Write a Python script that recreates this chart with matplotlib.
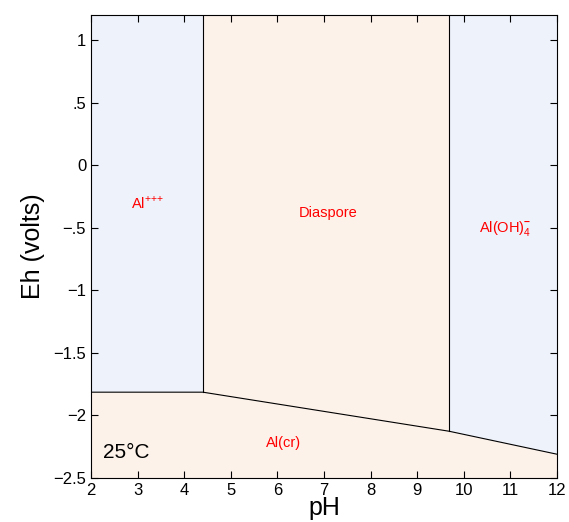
import matplotlib
matplotlib.use("Agg")
import matplotlib.pyplot as plt
from matplotlib.ticker import FuncFormatter

plt.rcParams['font.family'] = ['Liberation Sans', 'DejaVu Sans']
plt.rcParams['mathtext.fontset'] = 'custom'
plt.rcParams['mathtext.rm'] = 'Liberation Sans'
plt.rcParams['mathtext.bf'] = 'Liberation Sans:bold'

# field boundaries (pH, Eh)
x_left = 4.40
x_right = 9.68
bottom_x = [2, 4.40, 9.68, 12]
bottom_y = [-1.814, -1.814, -2.126, -2.31]

# region labels
labels = ["$\\mathrm{Al}^{{+}{+}{+}}$", "Diaspore", "$\\mathrm{Al(OH)}_4^{\\mathbf{-}}$", "Al(cr)"]
label_x = [3.2, 7.09, 10.88, 6.14]
label_y = [-0.30, -0.38, -0.51, -2.22]

blue = "#eef2fa"
peach = "#fdf2ea"

fig = plt.figure(figsize=(5.69, 5.22), dpi=100)
ax = fig.add_axes([0.16, 0.0843, 0.819, 0.8867])
ax.set_xlim(2, 12)
ax.set_ylim(-2.5, 1.2)

top = 1.2
# Al+++ field
ax.fill_between([2, x_left], [bottom_y[0], bottom_y[1]], top, color=blue, lw=0)
# Diaspore field
ax.fill_between([x_left, x_right], [bottom_y[1], bottom_y[2]], top, color=peach, lw=0)
# Al(OH)4- field
ax.fill_between([x_right, 12], [bottom_y[2], bottom_y[3]], top, color=blue, lw=0)
# Al(cr) field
ax.fill_between(bottom_x, -2.5, bottom_y, color=peach, lw=0)

ax.plot(bottom_x, bottom_y, color="black", lw=0.8)
ax.plot([x_left, x_left], [bottom_y[1], top], color="black", lw=0.8)
ax.plot([x_right, x_right], [bottom_y[2], top], color="black", lw=0.8)

for t, x, y in zip(labels, label_x, label_y):
    ax.text(x, y, t, color="red", fontsize=10.5, ha="center", va="center")

ax.text(0.026, 0.034, "25°C", transform=ax.transAxes, fontsize=15, ha="left", va="bottom")

ax.set_xticks(range(2, 13))
ax.set_yticks([1, 0.5, 0, -0.5, -1, -1.5, -2, -2.5])

def fmt(v, pos):
    s = ("%g" % v)
    s = s.replace("0.", ".")
    return s.replace("-", "\u2212")

ax.yaxis.set_major_formatter(FuncFormatter(fmt))
ax.tick_params(direction="in", top=True, right=True, labelsize=12, length=5, width=0.8)
for sp in ax.spines.values():
    sp.set_linewidth(0.8)

ax.set_xlabel("pH", fontsize=18, labelpad=-1)
ax.set_ylabel("Eh (volts)", fontsize=18, labelpad=6)

fig.savefig("out.png", dpi=100)
